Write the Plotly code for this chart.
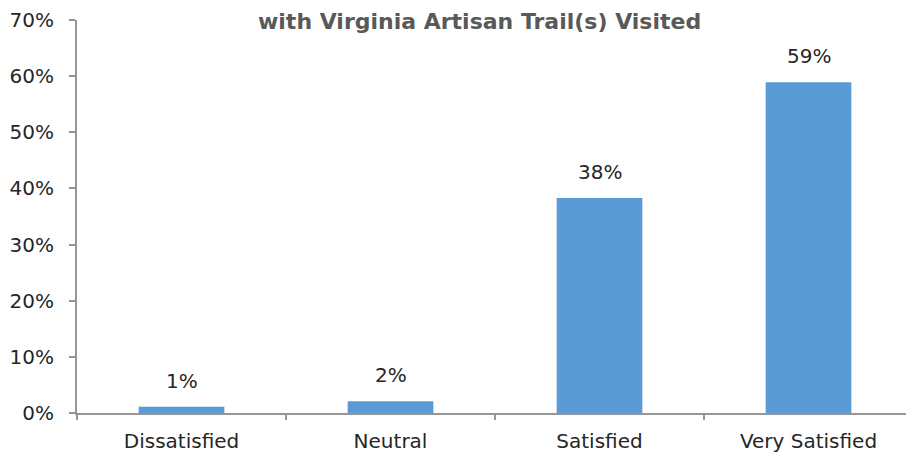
import plotly.graph_objects as go

categories = ["Dissatisfied", "Neutral", "Satisfied", "Very Satisfied"]
values = [1.1, 2.1, 38.3, 58.9]
labels = ["1%", "2%", "38%", "59%"]
title_text = "with Virginia Artisan Trail(s) Visited"
y_ticks = [0, 10, 20, 30, 40, 50, 60, 70]
y_tick_labels = [f"{v}%" for v in y_ticks]

FONT = "'DejaVu Sans', sans-serif"
AXIS_COLOR = "#969696"

fig = go.Figure()
fig.add_trace(go.Bar(
    x=categories, y=values,
    marker=dict(color="#5B9BD5", line=dict(width=0)),
    width=0.41,
    hoverinfo="skip",
))

for c, v, t in zip(categories, values, labels):
    fig.add_annotation(x=c, y=v, text=t, showarrow=False, yanchor="bottom",
                       yshift=12, font=dict(size=20, color="#262626", family=FONT))

fig.add_annotation(xref="paper", yref="paper", x=0.482, y=1.0, yshift=12,
                   text="<b>" + title_text + "</b>", showarrow=False,
                   yanchor="top", borderpad=0,
                   font=dict(size=22, color="#595959", family=FONT))

# page body has an 8px default margin; margins compensate for it
fig.update_layout(
    template="none",
    width=914, height=459,
    margin=dict(l=69, r=9, t=12, b=54),
    paper_bgcolor="white", plot_bgcolor="white",
    showlegend=False,
    font=dict(family=FONT, size=20, color="#262626"),
)
fig.update_xaxes(
    automargin=False,
    showline=True, linecolor=AXIS_COLOR, linewidth=2,
    ticks="", showgrid=False, zeroline=False,
    tickfont=dict(size=20, color="#262626", family=FONT),
    ticklabelstandoff=9,
)
fig.update_yaxes(
    automargin=False,
    range=[0, 70], tickvals=y_ticks, ticktext=y_tick_labels,
    showline=True, linecolor=AXIS_COLOR, linewidth=2,
    ticks="outside", ticklen=6, tickcolor=AXIS_COLOR, tickwidth=2,
    showgrid=False, zeroline=False,
    tickfont=dict(size=20, color="#262626", family=FONT),
    ticklabelstandoff=11,
)
# category separator tick marks on x axis
fig.update_layout(xaxis2=dict(
    automargin=False,
    overlaying="x", range=[-0.5, 3.5], tickvals=[-0.5, 0.5, 1.5, 2.5, 3.5],
    ticks="outside", ticklen=6, tickcolor=AXIS_COLOR, tickwidth=2,
    showticklabels=False, showline=False, showgrid=False, zeroline=False,
    side="bottom", anchor="y",
))
fig.add_trace(go.Scatter(x=[None], y=[None], xaxis="x2", showlegend=False,
                         hoverinfo="skip"))

fig.write_html("out.html")
